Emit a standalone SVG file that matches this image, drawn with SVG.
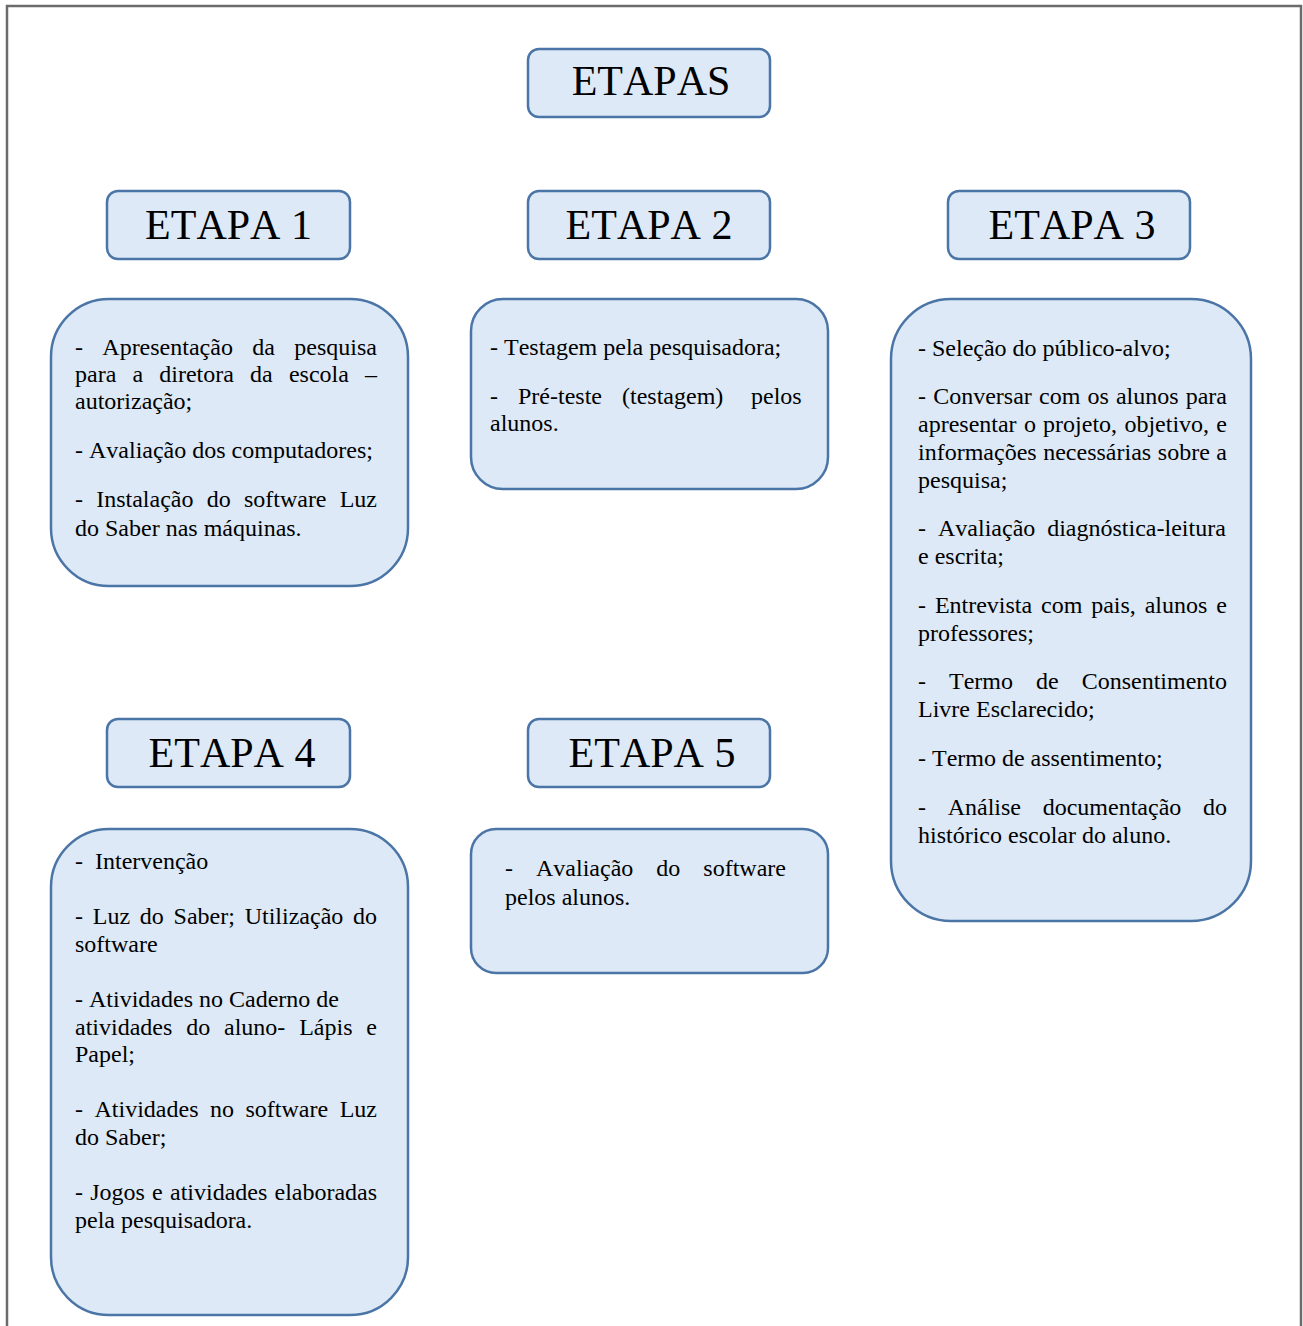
<svg xmlns="http://www.w3.org/2000/svg" width="1303" height="1326" viewBox="0 0 1303 1326">
<style>
.frame{fill:#ffffff;stroke:#6b6b6b;stroke-width:2.5}
.box{fill:#dde9f6;stroke:#4a75a6;stroke-width:2.5}
text{font-kerning:none;font-family:"Liberation Serif","Times New Roman",serif;fill:#000}
.h{font-size:42px;text-anchor:middle}
.t{font-size:24px}
</style>
<rect class="frame" x="7" y="6" width="1294" height="1345"/>
<g id="etapas">
<rect class="box" x="528" y="49" width="242" height="68" rx="11"/>
<text class="h" x="651" y="95">ETAPAS</text>
</g>
<g id="etapa1">
<rect class="box" x="107" y="191" width="243" height="68" rx="11"/>
<text class="h" x="228.5" y="239">ETAPA 1</text>
</g>
<g id="etapa2">
<rect class="box" x="528" y="191" width="242" height="68" rx="11"/>
<text class="h" x="649" y="239">ETAPA 2</text>
</g>
<g id="etapa3">
<rect class="box" x="948" y="191" width="242" height="68" rx="11"/>
<text class="h" x="1072" y="239">ETAPA 3</text>
</g>
<g id="etapa4">
<rect class="box" x="107" y="719" width="243" height="68" rx="11"/>
<text class="h" x="232" y="767">ETAPA 4</text>
</g>
<g id="etapa5">
<rect class="box" x="528" y="719" width="242" height="68" rx="11"/>
<text class="h" x="652" y="767">ETAPA 5</text>
</g>
<g id="box1">
<rect class="box" x="51" y="299" width="357" height="287" rx="58"/>
<text class="t" y="355"><tspan x="75">-</tspan><tspan x="102.3">Apresentação</tspan><tspan x="252.2">da</tspan><tspan x="294.3">pesquisa</tspan></text>
<text class="t" y="382"><tspan x="75">para</tspan><tspan x="132.4">a</tspan><tspan x="159.3">diretora</tspan><tspan x="250">da</tspan><tspan x="288.9">escola</tspan><tspan x="365">–</tspan></text>
<text class="t" x="75" y="409">autorização;</text>
<text class="t" x="75" y="458">- Avaliação dos computadores;</text>
<text class="t" y="507"><tspan x="75">-</tspan><tspan x="96.2">Instalação</tspan><tspan x="206.7">do</tspan><tspan x="243.9">software</tspan><tspan x="339.7">Luz</tspan></text>
<text class="t" x="75" y="536">do Saber nas máquinas.</text>
</g>
<g id="box2">
<rect class="box" x="471" y="299" width="357" height="190" rx="32"/>
<text class="t" x="490" y="355">- Testagem pela pesquisadora;</text>
<text class="t" y="404"><tspan x="490">-</tspan><tspan x="518">Pré-teste</tspan><tspan x="622">(testagem)</tspan><tspan x="751">pelos</tspan></text>
<text class="t" x="490" y="431">alunos.</text>
</g>
<g id="box3">
<rect class="box" x="891" y="299" width="360" height="622" rx="60"/>
<text class="t" x="918" y="356">- Seleção do público-alvo;</text>
<text class="t" y="404"><tspan x="918">-</tspan><tspan x="933.2">Conversar</tspan><tspan x="1039">com</tspan><tspan x="1087.4">os</tspan><tspan x="1115.9">alunos</tspan><tspan x="1185.7">para</tspan></text>
<text class="t" y="432"><tspan x="918">apresentar</tspan><tspan x="1023.9">o</tspan><tspan x="1043.1">projeto,</tspan><tspan x="1124.4">objetivo,</tspan><tspan x="1216.3">e</tspan></text>
<text class="t" y="460"><tspan x="918">informações</tspan><tspan x="1043.2">necessárias</tspan><tspan x="1157.8">sobre</tspan><tspan x="1216.3">a</tspan></text>
<text class="t" x="918" y="488">pesquisa;</text>
<text class="t" y="536"><tspan x="918">-</tspan><tspan x="938">Avaliação</tspan><tspan x="1047.2">diagnóstica-leitura</tspan></text>
<text class="t" x="918" y="564">e escrita;</text>
<text class="t" y="613"><tspan x="918">-</tspan><tspan x="934.9">Entrevista</tspan><tspan x="1041">com</tspan><tspan x="1091.2">pais,</tspan><tspan x="1144.7">alunos</tspan><tspan x="1216.3">e</tspan></text>
<text class="t" x="918" y="641">professores;</text>
<text class="t" y="689"><tspan x="918">-</tspan><tspan x="949">Termo</tspan><tspan x="1036">de</tspan><tspan x="1081.7">Consentimento</tspan></text>
<text class="t" x="918" y="717">Livre Esclarecido;</text>
<text class="t" x="918" y="766">- Termo de assentimento;</text>
<text class="t" y="815"><tspan x="918">-</tspan><tspan x="947.7">Análise</tspan><tspan x="1042.7">documentação</tspan><tspan x="1203">do</tspan></text>
<text class="t" x="918" y="843">histórico escolar do aluno.</text>
</g>
<g id="box4">
<rect class="box" x="51" y="829" width="357" height="486" rx="58"/>
<text class="t" y="869"><tspan x="75">-</tspan><tspan x="95">Intervenção</tspan></text>
<text class="t" y="924"><tspan x="75">-</tspan><tspan x="92.8">Luz</tspan><tspan x="139.8">do</tspan><tspan x="173.6">Saber;</tspan><tspan x="244.7">Utilização</tspan><tspan x="353">do</tspan></text>
<text class="t" x="75" y="952">software</text>
<text class="t" x="75" y="1007">- Atividades no Caderno de</text>
<text class="t" y="1035"><tspan x="75">atividades</tspan><tspan x="186.2">do</tspan><tspan x="224">aluno-</tspan><tspan x="299.2">Lápis</tspan><tspan x="366.3">e</tspan></text>
<text class="t" x="75" y="1062">Papel;</text>
<text class="t" y="1117"><tspan x="75">-</tspan><tspan x="94.5">Atividades</tspan><tspan x="210">no</tspan><tspan x="245.5">software</tspan><tspan x="339.7">Luz</tspan></text>
<text class="t" x="75" y="1145">do Saber;</text>
<text class="t" y="1200"><tspan x="75">-</tspan><tspan x="90.2">Jogos</tspan><tspan x="152.1">e</tspan><tspan x="170">atividades</tspan><tspan x="274.5">elaboradas</tspan></text>
<text class="t" x="75" y="1228">pela pesquisadora.</text>
</g>
<g id="box5">
<rect class="box" x="471" y="829" width="357" height="144" rx="25"/>
<text class="t" y="876"><tspan x="505">-</tspan><tspan x="536">Avaliação</tspan><tspan x="656.3">do</tspan><tspan x="703.3">software</tspan></text>
<text class="t" x="505" y="905">pelos alunos.</text>
</g>
<g id="connectors"></g>
</svg>
